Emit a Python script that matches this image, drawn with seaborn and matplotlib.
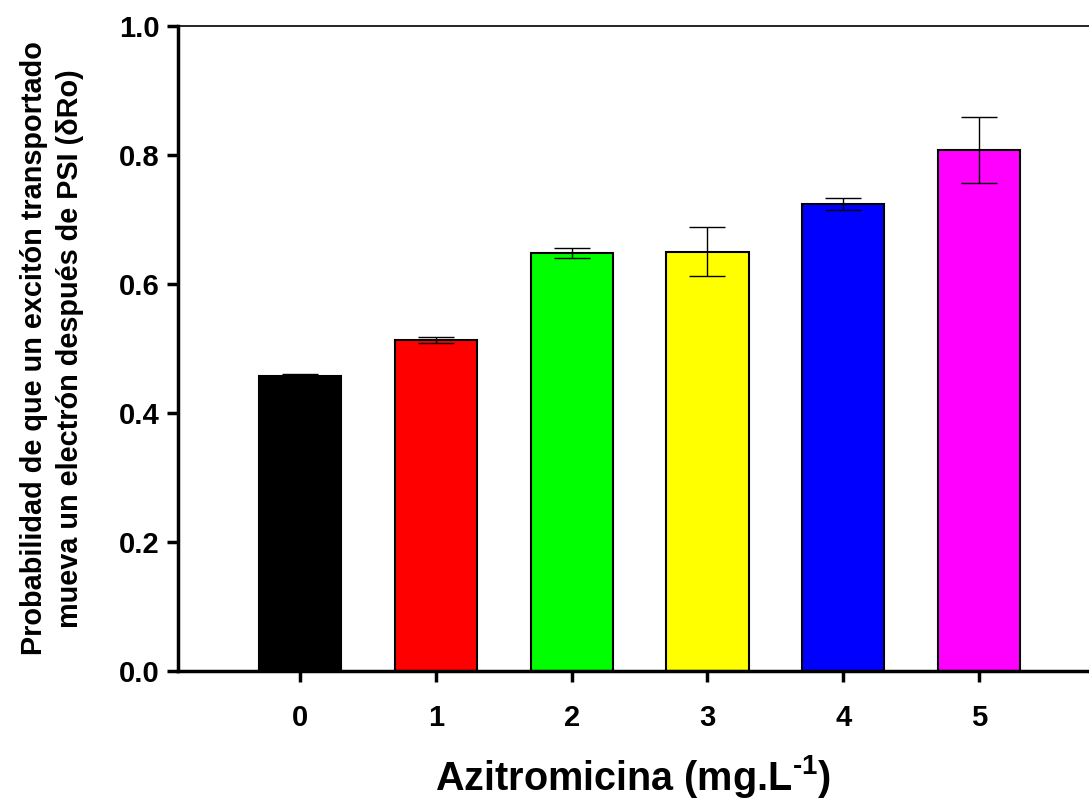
import matplotlib
matplotlib.use("Agg")
import matplotlib.pyplot as plt
import seaborn as sns
import pandas as pd

categories = ["0", "1", "2", "3", "4", "5"]
values = [0.458, 0.513, 0.648, 0.650, 0.724, 0.808]
errors = [0.003, 0.005, 0.008, 0.038, 0.010, 0.051]
colors = ["#000000", "#FF0000", "#00FF00", "#FFFF00", "#0000FF", "#FF00FF"]
yticks = [0.0, 0.2, 0.4, 0.6, 0.8, 1.0]

sns.set_theme(style="white")
plt.rcParams["font.family"] = ["Liberation Sans", "DejaVu Sans"]
plt.rcParams["mathtext.fontset"] = "custom"
plt.rcParams["mathtext.rm"] = "Liberation Sans:bold"
plt.rcParams["mathtext.bf"] = "Liberation Sans:bold"
plt.rcParams["mathtext.default"] = "bf"
plt.rcParams["text.color"] = "black"
plt.rcParams["axes.labelcolor"] = "black"
plt.rcParams["xtick.color"] = "black"
plt.rcParams["ytick.color"] = "black"

df = pd.DataFrame({"conc": categories, "val": values})

fig = plt.figure(figsize=(10.89, 8.07), dpi=100)
ax = fig.add_axes([178/1089, 136/807, 1 - 178/1089, (671-26)/807])

sns.barplot(data=df, x="conc", y="val", hue="conc", palette=colors, legend=False,
            errorbar=None, width=0.605, edgecolor="black", linewidth=1.5, ax=ax,
            saturation=1)
ax.errorbar(range(len(categories)), values, yerr=errors, fmt="none",
            ecolor="black", elinewidth=1.0, capsize=13, capthick=1.0, zorder=5)

ax.set_xlim(-0.90, 5.81)
ax.set_ylim(0, 1.0)
ax.set_yticks(yticks)
ax.set_yticklabels([f"{t:.1f}" for t in yticks])

for s in ["left", "bottom"]:
    ax.spines[s].set_linewidth(2.5)
    ax.spines[s].set_color("black")
ax.spines["top"].set_linewidth(1.2)
ax.spines["top"].set_color("black")
ax.spines["right"].set_visible(False)

ax.tick_params(axis="both", which="major", direction="out", length=8, width=2.5,
               color="black", labelcolor="black", labelsize=21, left=True, bottom=True)
ax.tick_params(axis="x", pad=16)
ax.tick_params(axis="y", pad=5)
for lab in ax.get_xticklabels() + ax.get_yticklabels():
    lab.set_fontweight("bold")

ax.set_xlabel(r"Azitromicina (mg.L$^{\text{-1}}$)", fontsize=28.5, fontweight="bold",
              labelpad=15, color="black")
ax.set_ylabel("Probabilidad de que un excitón transportado\nmueva un electrón después de PSI (δRo)",
              fontsize=20.8, fontweight="bold", labelpad=25, linespacing=1.4, color="black")

fig.savefig("out.png", dpi=100)
